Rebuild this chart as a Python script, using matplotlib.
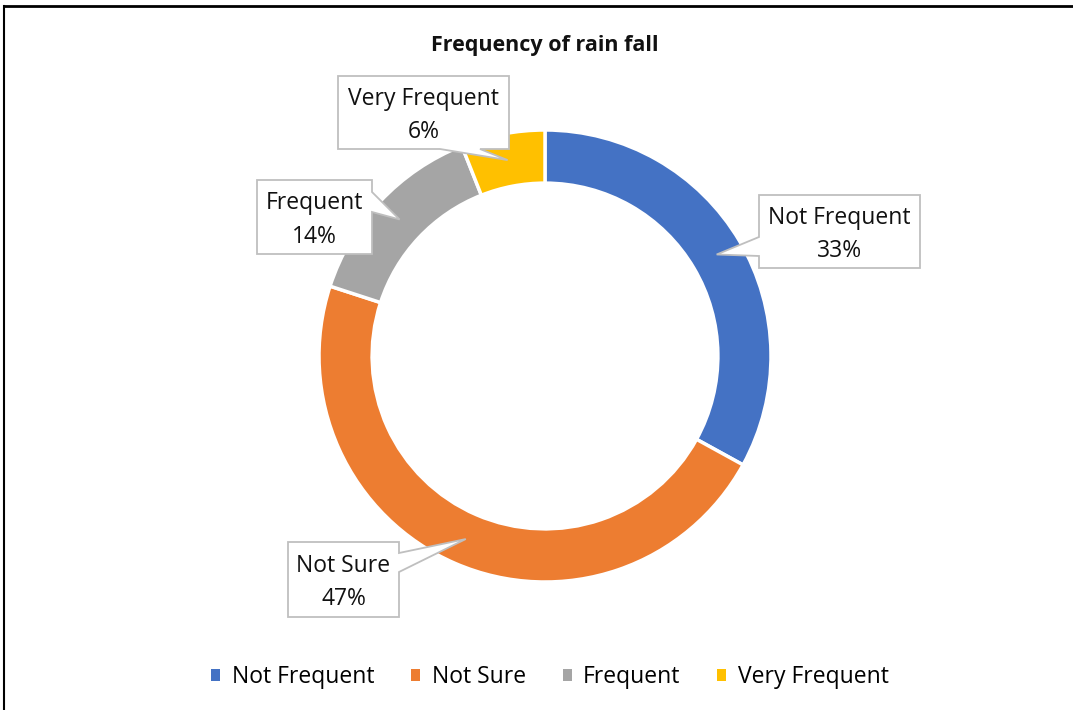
import matplotlib.pyplot as plt
from matplotlib.patches import Polygon, Patch
from matplotlib.lines import Line2D
import numpy as np

plt.rcParams['font.family'] = ['Open Sans', 'DejaVu Sans']

# data
categories = ['Not Frequent', 'Not Sure', 'Frequent', 'Very Frequent']
shares = [33, 47, 14, 6]
colors = ['#4472C4', '#ED7D31', '#A5A5A5', '#FFC000']

# callout boxes (pixel layout, y measured from bottom): x0, x1, y0, y1, side, base span
boxes = {
    'Not Frequent': (759, 920, 442, 515, 'left', (454, 473)),
    'Not Sure': (288, 399, 93, 168, 'right', (138, 157)),
    'Frequent': (257, 372, 456, 530, 'right', (498, 518)),
    'Very Frequent': (338, 509, 561, 634, 'bottom', (440, 480)),
}

W, H = 1073, 710
fig = plt.figure(figsize=(W / 100, H / 100), dpi=100)
ax = fig.add_axes([0, 0, 1, 1])

cx, cy, r_out = 545, 354, 226
ring = 0.235
wedges, _ = ax.pie(shares, colors=colors, startangle=90, counterclock=False,
                   center=(cx, cy), radius=r_out,
                   wedgeprops=dict(width=r_out * ring, edgecolor='white', linewidth=2.5))
ax.set_aspect('auto')
ax.set_xlim(0, W)
ax.set_ylim(0, H)
ax.axis('off')

# callouts with pointers to the middle of each wedge
total = sum(shares)
start = 90.0
r_mid = r_out * (1 - ring / 2)
for cat, val in zip(categories, shares):
    ang = np.deg2rad(start - val / total * 360 / 2)
    start -= val / total * 360
    tx, ty = cx + r_mid * np.cos(ang), cy + r_mid * np.sin(ang)
    x0, x1, y0, y1, side, (b0, b1) = boxes[cat]
    if side == 'left':
        pts = [(x0, y0), (x0, b0), (tx, ty), (x0, b1), (x0, y1), (x1, y1), (x1, y0)]
    elif side == 'right':
        pts = [(x0, y0), (x0, y1), (x1, y1), (x1, b1), (tx, ty), (x1, b0), (x1, y0)]
    else:
        pts = [(x0, y0), (x0, y1), (x1, y1), (x1, y0), (b1, y0), (tx, ty), (b0, y0)]
    ax.add_patch(Polygon(pts, closed=True, facecolor='white', edgecolor='#BFBFBF',
                         linewidth=1.3, zorder=5))
    ax.text((x0 + x1) / 2, (y0 + y1) / 2 - 3, f'{cat}\n{val}%', ha='center', va='center',
            fontsize=16.5, linespacing=1.55, color='#111111', zorder=6)

fig.text(545 / W, 1 - 45 / H, 'Frequency of rain fall', ha='center', va='center',
         fontsize=15.5, fontweight='bold', color='#111111')

handles = [Patch(facecolor=c, edgecolor='none') for c in colors]
fig.legend(handles, categories, loc='center', bbox_to_anchor=(550 / W, 1 - 677 / H),
           ncol=4, frameon=False, fontsize=16.5, handlelength=0.4, handleheight=0.4,
           handletextpad=0.5, columnspacing=1.6)

# frame lines on top and left
fig.add_artist(Line2D([4 / W, 1], [1 - 6 / H, 1 - 6 / H], color='black', linewidth=2,
                      transform=fig.transFigure))
fig.add_artist(Line2D([4 / W, 4 / W], [0, 1 - 6 / H], color='black', linewidth=1.5,
                      transform=fig.transFigure))

fig.savefig('out.png', dpi=100, facecolor='white')
